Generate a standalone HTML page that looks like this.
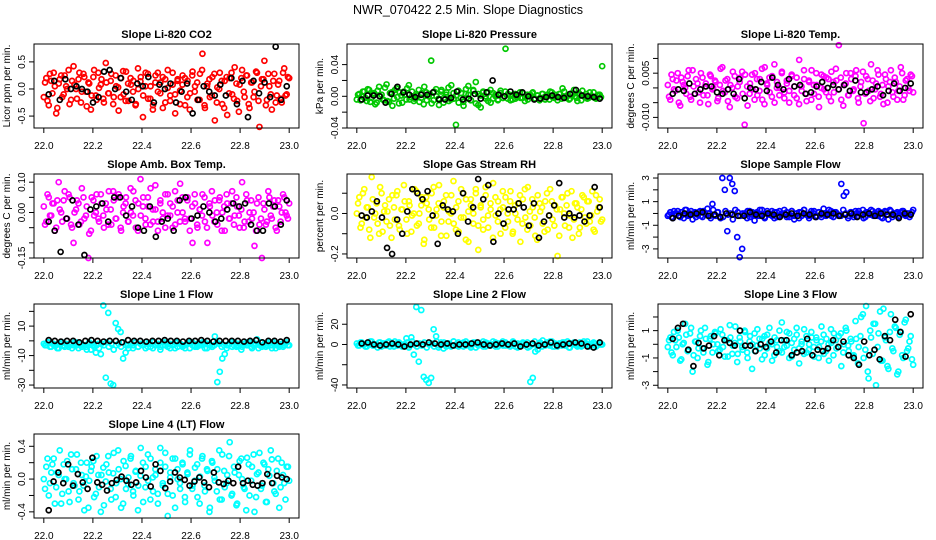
<!DOCTYPE html>
<html><head><meta charset="utf-8"><style>
html,body{margin:0;padding:0;background:#fff}
svg{display:block;font-family:"Liberation Sans",Arial,sans-serif}
</style></head><body>
<svg id="fig" width="936" height="540" viewBox="0 0 936 540" xmlns="http://www.w3.org/2000/svg">
<rect width="936" height="540" fill="#fff"/>
<text x="468" y="14" text-anchor="middle" font-size="12.5">NWR_070422  2.5 Min. Slope Diagnostics</text>
</svg>
<script>
// ---- data (values in the panel's unit multiplied by its scale) ----
const xTicks = [22.0, 22.2, 22.4, 22.6, 22.8, 23.0];
const xTickLabels = ["22.0","22.2","22.4","22.6","22.8","23.0"];

const co2Vals = [-15,20,-30,15,30,-45,10,25,-10,5,35,-20,42,0,18,-25,28,-5,12,-38,22,-12,30,8,-18,48,-8,15,-28,25,3,-15,33,-22,10,20,-5,-30,38,14,-52,5,28,-18,-38,12,30,-8,22,-25,35,-12,8,-45,18,-3,25,-30,15,-8,32,5,-20,28,65,-35,10,-15,22,-58,3,30,-28,15,-48,20,-10,40,-22,8,35,-15,25,-35,12,-5,30,-70,18,52,-20,5,-38,28,-12,15,-25,38,-10,20];
const co2Vals2 = [12,-22,28,-8,5,-35,18,-15,25,0,-28,15,8,-18,30,-5,22,-32,10,-12,35,-20,2,18,-25,12,-8,28,-15,5,-40,20,-10,32,-22,8,15,-28,0,22,-12,30,-18,5,-30,25,-5,12,-35,18,2,-22,30,-10,15,-28,8,20,-15,-38,25,-5,12,-20,35,-30,5,18,-12,28,-25,0,15,-35,22,-8,30,-18,10,-42,20,-5,25,-28,12,-15,32,-22,5,18,-30,28,-10,15,-25,8,-18,30,-12,22];
const co2Blk = [-10,15,-20,18,0,5,0,-5,-25,-15,32,35,0,20,-5,-20,10,5,22,-25,8,0,10,-25,-5,10,-45,-20,5,-5,-12,8,-12,20,-28,15,-52,15,-8,12,-15,78,-20,5];

const presVals = [-4,3,0,6,-6,8,-2,4,-8,12,2,-5,15,-7,5,-3,10,-9,1,6,-4,14,-1,-6,3,8,-2,-10,5,0,45,-5,9,-3,6,-8,2,11,-4,4,-36,7,-2,-7,3,13,-5,8,18,-11,1,6,-3,5,-8,4,0,-4,7,-2,60,3,-5,2,-3,1,-2,4,-1,-4,2,5,-3,1,-2,3,-4,0,6,-1,2,-5,3,10,-2,1,-3,4,0,-6,2,7,-1,-3,5,0,-2,1,2,38];
const presVals2 = [2,-5,6,-2,9,-7,3,-10,7,0,-4,11,-6,4,-12,8,-1,5,-8,2,10,-4,6,-3,1,-7,4,12,-5,3,-9,6,0,-11,8,-2,5,-6,14,-3,1,-8,4,-12,9,2,-5,7,-9,3,-14,5,0,-6,8,-3,2,-5,4,-2,6,-3,1,-4,3,-1,5,-2,-6,2,0,4,-3,1,-5,3,-1,2,-4,5,-2,0,3,-3,6,-1,-4,2,8,-2,4,-5,1,3,-2,0,5,-3,2,-1];
const presBlk = [-4,1,1,0,-8,3,12,5,2,-1,2,2,5,-4,-4,-2,6,-4,-3,3,-3,5,20,2,0,6,2,5,0,-4,-3,-1,1,-1,-2,3,8,1,0,-1,-3];

const tempVals = [10,-40,30,-10,50,-60,20,0,40,-30,60,-20,15,-50,35,5,-25,45,-5,25,-45,10,70,-15,30,-65,0,40,-35,20,55,-125,5,-20,45,-40,30,-10,65,-55,15,35,-30,80,0,-25,50,-15,25,-50,40,5,-35,95,-10,30,-45,20,60,-20,10,-65,45,-5,35,-30,55,-15,25,145,-40,10,50,-25,30,-5,60,-50,20,-120,40,-10,80,-35,15,45,-20,-55,30,5,60,-30,20,-10,70,-40,25,0,45,-15];
const tempVals2 = [-30,45,-5,25,-50,35,10,-20,60,-40,5,30,-15,50,-25,15,-55,40,0,20,-35,65,-10,25,-45,10,55,-30,5,35,-20,45,-60,15,-5,50,-25,30,-40,70,10,-15,40,-50,20,0,55,-35,15,-10,45,-25,35,-55,5,60,-20,25,-40,10,50,-30,0,40,-15,30,-45,20,65,-5,35,-60,15,-25,50,-10,40,-35,5,55,-20,30,-45,25,-5,60,-30,10,45,-50,20,-15,35,-40,5,50,-25,30,-10,40];
const tempBlk = [-20,-5,-10,15,-20,-5,5,5,-15,-20,-5,-20,30,-35,0,-5,20,-10,35,10,-5,30,5,10,-20,-15,5,20,0,10,-5,10,-10,25,-15,-15,-5,5,-25,-10,15,-10,0,15];

const ambVals = [2,-3,5,-1,3,-5,10,0,4,-2,6,-4,-10,1,3,-3,5,-1,-15,-6,4,0,-2,6,-1,3,-4,1,7,-2,5,-5,0,3,-3,8,-1,4,-6,11,2,-2,5,-4,1,9,-3,3,0,-5,6,-1,2,-4,4,9.5,0,-3,5,-2,-10,3,-5,1,6,-3,-10,2,-1,4,-4,5,0,-6,3,-2,7,-1,2,-5,10,-3,4,0,-2,-11,3,-4,-15,1,-3,5,-2,4,-6,2,0,5,-1,3];
const ambVals2 = [-4,6,-1,3,-6,4,1,-3,7,-2,5,-5,0,4,-4,8,-2,2,-7,5,-1,6,-3,3,-5,1,7,-4,4,-2,6,-6,2,5,-3,0,7,-5,3,-1,5,-4,2,8,-3,1,-6,4,-2,6,-1,3,-5,7,0,-3,5,-2,4,-6,2,6,-4,1,-1,5,-5,3,7,-3,0,4,-6,2,6,-2,3,-4,5,-1,1,-5,6,-3,4,0,-6,5,-2,3,-4,7,-1,2,-5,4,-3,6,0,-2];
const ambBlk = [-3,-6,-13,-2,4,-4,-14,1,2,3,-3,5,5,-1,2,-5,-6,2,-8,-3,-2,-6,4,5,-2,-1,2,0,-3,-2,1,3,2,3,-4,-6,-6,3,2,-4,4];

const rhVals = [0,8,-5,12,3,-8,18,-2,5,-10,10,1,-4,7,-12,3,9,-6,2,14,-3,6,-9,0,11,-5,4,-15,8,2,-7,13,-1,5,-11,3,9,-4,0,16,-8,6,-2,10,-13,1,7,-5,12,-18,4,-3,9,-7,2,15,-1,6,-10,3,8,-4,11,-9,0,5,-14,7,-2,13,-6,3,-11,9,1,-5,6,-8,12,-3,4,-21,2,8,-6,10,-1,-12,5,3,-7,9,-2,6,-4,11,-9,1,7,-3];
const rhVals2 = [5,-7,10,-2,3,-12,7,0,-5,13,-9,4,1,-6,9,-3,11,-8,2,6,-10,4,-1,12,-6,0,8,-13,5,-3,10,-7,2,14,-4,6,-11,1,9,-5,3,-9,12,-2,7,-14,4,0,10,-6,3,-8,13,-1,5,-12,8,-4,2,11,-7,0,6,-10,4,-3,9,-5,12,-8,1,7,-2,-13,5,3,-9,10,-1,6,-6,2,-11,8,0,4,-7,11,-3,5,-10,2,8,-5,6,-1,-8,9,3,-4];
const rhBlk = [-1,-2,1,6,-2,-17,-20,-3,-10,1,12,10,7,11,-1,-15,4,2,1,-10,10,-4,3,17,7,14,-14,0,-5,2,2,5,3,-6,5,-12,-4,-1,4,15,-2,0,-2,-1,-4,-1,13,3];

const sampVals = [-2,1,-4,0,2,-3,-1,3,-2,0,-5,1,-1,2,-3,0,4,-2,8,-1,1,-3,30,20,-15,30,25,19,-20,-37,-30,0,-4,2,-1,-6,1,-2,3,-3,0,-1,2,-4,1,-2,0,3,-3,-1,2,-5,0,1,-2,3,-1,-4,0,2,-2,1,-3,0,-1,3,-2,1,0,-2,25,15,18,-2,1,-3,0,2,-1,-4,1,0,3,-2,-1,2,-3,0,1,-5,2,-1,0,-3,1,2,-2,0,-1,3];
const sampVals2 = [-1,-3,2,0,-2,1,-4,3,-1,2,0,-3,1,-2,2,-1,0,-4,3,-2,1,-4,-3,2,-1,0,-5,3,1,-2,0,-1,2,-3,1,0,-2,3,-1,-4,2,0,-2,1,-3,2,-1,0,1,-3,2,-2,0,-4,1,3,-1,-2,2,0,-3,1,-1,4,-2,0,2,-3,1,-1,-2,3,0,-4,1,-1,2,-2,0,3,-3,1,-1,2,0,-2,1,-4,2,-1,3,-3,0,1,-2,2,-1,0,-3,1];
const sampBlk = [-4,-2,0,-1,0,1,-2,-1,-3,0,-1,-2,-2,1,-1,-2,0,-1,-3,-1,0,-2,0,-1,-3,0,-1,0,-2,-1,0,-3,-1,0,-2,0,-1,-1,-4,0,-1];

const line1Vals = [-2,-3,-1,-4,-2,-3,-5,-1,-3,-2,-4,-2,-3,-1,-5,-2,-3,-4,-2,-6,-3,-8,-2,-9,24,-25,19,-29,-30,12,8,6,-12,-8,-3,-2,-5,-1,-4,-2,-3,-1,-4,-2,-5,-3,-2,-4,-1,-3,-2,-5,-3,-1,-4,-2,-3,-5,-2,-1,-3,-4,-2,-3,-1,-5,-2,-3,-4,3,-28,-21,-12,-9,-3,-2,-4,-1,-3,-2,-4,-2,-3,-1,-5,-2,1,-3,-4,-2,-3,-1,-5,-2,-3,-4,-2,-3,-1,-3];
const line1Vals2 = [-3,-1,-4,-2,-3,-5,-2,-1,-4,-3,-2,-5,-1,-3,-2,-4,-3,-6,-1,-2,-4,-3,-5,-2,-3,-1,-4,-2,-6,-3,-2,-4,-1,-3,-5,-2,-3,-1,-4,-2,-3,-5,-2,-4,-1,-3,-2,-6,-3,-1,-4,-2,-3,-5,-1,-2,-4,-3,-2,-5,-1,-3,-4,-2,-3,-1,-5,-2,-4,-3,-1,-2,-4,-3,-5,-2,-1,-3,-4,-2,-6,-3,-1,-2,-4,-3,-2,-5,-1,-3,-4,-2,-3,-1,-5,-2,-3,-4,-2,-3];
const line1Blk = [0.5,0,-0.5,0,0,-1,0,0.5,0,-0.5,0,0,-1,0.5,0,0,-0.5,0,0,0.5,0,0,-0.5,0,0,0.5,0,-0.5,0,0,0,0,-0.5,0,0.5,-1,0,0,-0.5,0.5];

const line2Vals = [1,-1,2,0,-2,1,3,-1,0,2,-2,1,-1,3,0,-2,1,2,-1,0,6,-3,7,-10,37,-17,34,-32,-35,-38,-33,15,8,-3,2,-4,0,1,-2,3,-1,2,0,-2,3,1,-1,2,-3,0,1,-2,2,0,-1,3,-2,1,0,-1,2,-1,0,3,-2,1,-1,2,0,-3,-37,-33,-7,-5,2,4,-1,0,3,-2,1,-2,0,2,-1,3,-3,1,0,-2,2,-1,1,3,-2,0,1,-1,2,0];
const line2Vals2 = [-1,2,0,-2,1,3,-1,0,-3,2,1,-1,2,-2,0,3,-1,1,-2,0,2,-1,3,0,-2,1,-1,2,-3,0,1,-2,3,-1,0,2,-2,1,-1,3,0,-2,1,2,-1,0,-3,1,2,-1,0,3,-2,1,-1,0,2,-2,1,3,-1,0,-2,2,1,-3,0,1,-1,2,-2,0,3,-1,1,-2,0,2,-1,3,-2,0,1,-1,2,0,-3,1,2,-1,0,-2,3,1,-1,0,2,-2,1,0];
const line2Blk = [1,2,0,-1,0,1,0,-2,0,1,0,2,1,0,1,-1,0,0,1,2,0,-1,0,1,0,1,-2,0,1,-1,0,2,-1,0,1,2,1,-2,-3,2];

const line3Vals = [-2,5,-8,3,10,-12,0,15,-5,8,-20,2,-10,6,-3,12,-15,4,-6,9,0,-4,7,-9,3,14,-7,1,-13,5,-2,10,-6,2,-18,8,-1,4,-11,6,-3,12,0,-8,3,-5,16,-2,9,-10,1,-4,7,-14,2,11,-6,0,5,-9,3,-2,13,-7,4,-12,1,8,-3,6,-16,0,10,-5,2,-8,4,-2,20,-10,28,-25,5,15,-30,8,-12,26,3,-18,22,-5,12,-20,9,-10,18,-3,6,-15];
const line3Vals2 = [3,-6,9,-2,5,-11,1,7,-4,12,-8,2,-3,10,-6,4,-13,6,0,8,-5,11,-2,3,-9,5,-1,13,-7,2,-4,9,-10,6,0,-5,11,-3,4,-8,7,1,-12,5,-2,10,-6,3,-1,8,-9,4,12,-3,0,-7,6,-4,9,-2,5,-10,2,7,-5,0,11,-8,3,-2,8,-6,12,-1,4,-9,17,-14,6,22,-4,-20,10,-7,15,-2,24,-12,5,-16,9,-3,13,-22,7,-8,16,-5,2,-11];
const line3Blk = [4,12,15,-4,-16,1,-3,-1,6,-8,3,1,-1,10,-1,-1,-5,0,-2,2,-6,3,3,-8,-6,-5,4,-8,-4,-5,-3,3,-2,2,-8,-10,-15,2,-8,-4,-11,6,3,18,9,-9,22];

const line4Vals = [0,15,-20,8,25,-10,5,-30,18,0,-15,30,-5,12,-25,20,-8,3,-35,10,22,-18,5,-40,14,-3,28,-12,7,-22,35,0,-30,16,-6,25,-15,9,-38,4,20,-10,30,-25,2,12,-18,38,-5,15,-45,8,-20,25,0,-12,18,-28,6,35,-8,14,-22,3,28,-15,10,-35,20,-2,12,-25,30,-10,5,45,-18,8,-30,22,0,-12,26,-20,15,-40,6,32,-8,18,-28,4,24,-15,10,-35,20,-5,15,-2];
const line4Vals2 = [-12,25,-5,18,-30,8,35,-18,0,22,-28,12,-8,30,-15,5,-38,20,-2,15,-22,28,-10,5,-32,18,8,-25,32,-5,12,-35,22,-12,2,28,-20,10,-8,38,-28,15,-2,25,-15,5,-30,20,-8,32,-18,2,25,-35,12,-5,20,-22,8,30,-12,-2,18,-30,25,-8,12,-40,22,2,-15,35,-25,10,-5,28,-20,15,-32,5,25,-10,-38,18,-2,30,-22,8,-12,20,-28,12,35,-5,-18,25,-10,5,-25,15];
const line4Blk = [-38,-3,8,-5,18,-8,6,-4,-12,26,-4,-7,-14,-5,-1,3,-2,-7,-4,10,2,-9,18,10,-11,-3,8,2,-1,-8,-3,2,-4,-10,8,-4,-6,-2,-5,15,-5,-2,-7,-8,-5,6,-5,4,2,0];

// ---- panel config ----
const panels = [
 {key:"co2",title:"Slope Li-820 CO2",ylab:"Licor ppm per min.",col:0,row:0,scale:0.01,ylim:[-0.72,0.83],ticks:[-0.5,0,0.5],labels:["-0.5","0.0","0.5"],color:"#ff0000",vals:co2Vals,vals2:co2Vals2,blk:co2Blk},
 {key:"pressure",title:"Slope Li-820 Pressure",ylab:"kPa per min.",col:1,row:0,scale:0.001,ylim:[-0.040,0.066],ticks:[-0.04,-0.02,0,0.02,0.04],labels:["-0.04","","0.00","","0.04"],color:"#00c800",vals:presVals,vals2:presVals2,blk:presBlk},
 {key:"temp",title:"Slope Li-820 Temp.",ylab:"degrees C per min.",col:2,row:0,scale:0.0001,ylim:[-0.0136,0.0149],ticks:[-0.01,-0.005,0,0.005,0.01],labels:["-0.010","","","0.005",""],color:"#ff00ff",vals:tempVals,vals2:tempVals2,blk:tempBlk},
 {key:"amb",title:"Slope Amb. Box Temp.",ylab:"degrees C per min.",col:0,row:1,scale:0.01,ylim:[-0.15,0.127],ticks:[-0.15,-0.1,-0.05,0,0.05,0.1],labels:["-0.15","","","0.00","","0.10"],color:"#ff00ff",vals:ambVals,vals2:ambVals2,blk:ambBlk},
 {key:"rh",title:"Slope Gas Stream RH",ylab:"percent per min.",col:1,row:1,scale:0.01,ylim:[-0.22,0.195],ticks:[-0.2,-0.1,0,0.1],labels:["-0.2","","0.0",""],color:"#ffff00",vals:rhVals,vals2:rhVals2,blk:rhBlk},
 {key:"sample",title:"Slope Sample Flow",ylab:"ml/min per min.",col:2,row:1,scale:0.1,ylim:[-3.77,3.34],ticks:[-3,-2,-1,0,1,2,3],labels:["-3","","-1","","1","","3"],color:"#0000ff",vals:sampVals,vals2:sampVals2,blk:sampBlk},
 {key:"line1",title:"Slope Line 1 Flow",ylab:"ml/min per min.",col:0,row:2,scale:1,ylim:[-32,25],ticks:[-30,-20,-10,0,10,20],labels:["-30","","-10","","10",""],color:"#00ffff",vals:line1Vals,vals2:line1Vals2,blk:line1Blk},
 {key:"line2",title:"Slope Line 2 Flow",ylab:"ml/min per min.",col:1,row:2,scale:1,ylim:[-43,40],ticks:[-40,-20,0,20],labels:["-40","","0","20"],color:"#00ffff",vals:line2Vals,vals2:line2Vals2,blk:line2Blk},
 {key:"line3",title:"Slope Line 3 Flow",ylab:"ml/min per min.",col:2,row:2,scale:0.1,ylim:[-3.2,2.95],ticks:[-3,-2,-1,0,1,2],labels:["-3","","-1","","1",""],color:"#00ffff",vals:line3Vals,vals2:line3Vals2,blk:line3Blk},
 {key:"line4",title:"Slope Line 4 (LT) Flow",ylab:"ml/min per min.",col:0,row:3,scale:0.01,ylim:[-0.475,0.55],ticks:[-0.4,-0.2,0,0.2,0.4],labels:["-0.4","","0.0","","0.4"],color:"#00ffff",vals:line4Vals,vals2:line4Vals2,blk:line4Blk}
];

const colLeft = [34, 347, 658];
const rowTop = [44, 174, 304, 434];
const boxW = 265, boxH = 84;
const NS = "http://www.w3.org/2000/svg";
const svg = document.getElementById("fig");

function mk(tag, attrs, parent, text){
  const e = document.createElementNS(NS, tag);
  for (const k in attrs) e.setAttribute(k, attrs[k]);
  if (text !== undefined) e.textContent = text;
  (parent || svg).appendChild(e);
  return e;
}

panels.forEach(p => {
  const L = colLeft[p.col], T = rowTop[p.row];
  const g = mk("g", {});
  
  
  const xs = t => L + (t - 21.96) / 1.08 * boxW;
  const ys = v => T + (p.ylim[1] - v) / (p.ylim[1] - p.ylim[0]) * boxH;

  const title = mk("text", {x: L + boxW/2, y: T - 6, "text-anchor":"middle", "font-size":"11", "font-weight":"bold"}, g, p.title);
  
  

  const ylab = mk("text", {x: 0, y: 0, "text-anchor":"middle", "font-size":"10", transform:`translate(${L-24},${T+boxH/2}) rotate(-90)`}, g, p.ylab);
  
  

  xTicks.forEach((t, i) => {
    const tk = mk("line", {x1: xs(t), x2: xs(t), y1: T+boxH, y2: T+boxH+5, stroke:"#000", "stroke-width":"1"}, g);
    
    
    const lb = mk("text", {x: xs(t), y: T+boxH+21, "text-anchor":"middle", "font-size":"10"}, g, xTickLabels[i]);
    
    
  });
  p.ticks.forEach((v, i) => {
    const tk = mk("line", {x1: L-5, x2: L, y1: ys(v), y2: ys(v), stroke:"#000", "stroke-width":"1"}, g);
    
    
    if (p.labels[i]) {
      const lb = mk("text", {x: 0, y: 0, "text-anchor":"middle", "font-size":"10", transform:`translate(${L-9},${ys(v)}) rotate(-90)`}, g, p.labels[i]);
      
      
    }
  });

  const n = p.vals.length;
  p.vals.forEach((v, i) => {
    const t = 22.0 + i / (n - 1);
    const c = mk("circle", {cx: xs(t), cy: ys(v * p.scale), r: 2.5, fill:"none", stroke: p.color, "stroke-width":"1.7"}, g);
    
    
  });
  const n2 = p.vals2.length;
  p.vals2.forEach((v, i) => {
    const t = 22.0 + (i + 0.5) / n2;
    const c = mk("circle", {cx: xs(t), cy: ys(v * p.scale), r: 2.5, fill:"none", stroke: p.color, "stroke-width":"1.7"}, g);
    
    
  });
  const m = p.blk.length;
  p.blk.forEach((v, i) => {
    const t = 22.02 + 0.97 * i / (m - 1);
    const c = mk("circle", {cx: xs(t), cy: ys(v * p.scale), r: 2.5, fill:"none", stroke:"#000", "stroke-width":"1.7"}, g);
    
    
  });

  const box = mk("rect", {x: L, y: T, width: boxW, height: boxH, fill:"none", stroke:"#000", "stroke-width":"1"}, g);
  
  
});
</script>
</body></html>
